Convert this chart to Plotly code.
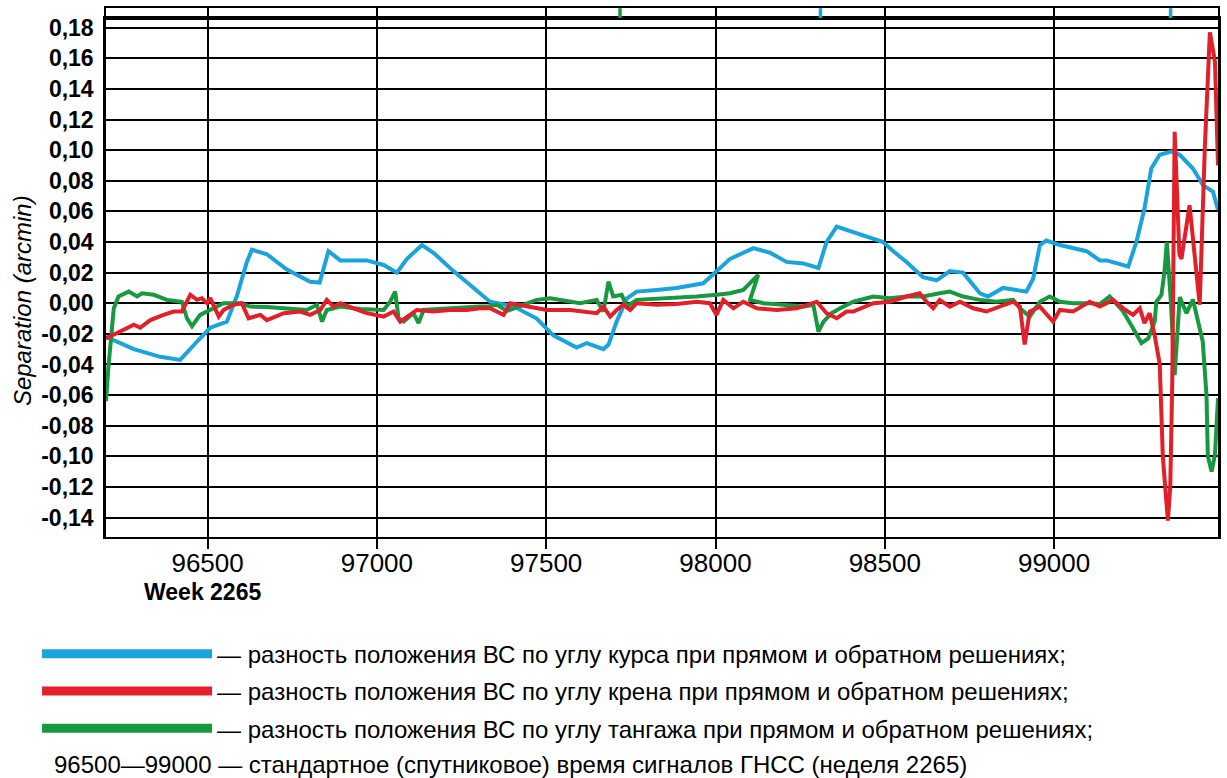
import plotly.graph_objects as go

# ---------------- data ----------------
heading_t = [96200, 96282, 96360, 96419, 96469, 96508, 96557, 96587, 96616, 96631, 96675, 96734,
             96803, 96831, 96857, 96892, 96970, 97020, 97059, 97089, 97133, 97167, 97226, 97275,
             97334, 97403, 97472, 97521, 97590, 97620, 97669, 97684, 97708, 97738, 97767, 97826,
             97885, 97964, 98003, 98043, 98112, 98161, 98210, 98259, 98304, 98328, 98358, 98397,
             98436, 98495, 98525, 98564, 98613, 98653, 98692, 98731, 98781, 98805, 98849, 98918,
             98938, 98958, 98977, 99017, 99096, 99135, 99155, 99219, 99243, 99267, 99287, 99312,
             99346, 99371, 99410, 99440, 99469, 99484]
heading_v = [-0.022, -0.030, -0.035, -0.037, -0.025, -0.016, -0.012, 0.005, 0.027, 0.035, 0.032, 0.022,
             0.014, 0.0135, 0.034, 0.028, 0.028, 0.025, 0.020, 0.029, 0.038, 0.033, 0.021, 0.012,
             0.001, -0.002, -0.010, -0.021, -0.029, -0.026, -0.030, -0.027, -0.012, 0.003, 0.0076, 0.0087,
             0.010, 0.013, 0.021, 0.029, 0.036, 0.033, 0.027, 0.026, 0.023, 0.040, 0.050, 0.047,
             0.044, 0.040, 0.034, 0.027, 0.017, 0.015, 0.021, 0.020, 0.0065, 0.0044, 0.010, 0.0076,
             0.016, 0.038, 0.041, 0.038, 0.034, 0.028, 0.028, 0.024, 0.040, 0.062, 0.088, 0.097,
             0.099, 0.097, 0.088, 0.077, 0.073, 0.061]

roll_t = [96200, 96242, 96282, 96301, 96331, 96370, 96400, 96424, 96449, 96469, 96483, 96498,
          96508, 96533, 96547, 96577, 96601, 96621, 96656, 96675, 96725, 96774, 96803, 96833,
          96852, 96872, 96892, 96931, 96970, 97020, 97049, 97069, 97118, 97167, 97216, 97266,
          97305, 97334, 97374, 97394, 97443, 97502, 97571, 97649, 97669, 97689, 97708, 97728,
          97748, 97767, 97826, 97885, 97944, 97983, 98003, 98023, 98053, 98082, 98122, 98181,
          98240, 98299, 98328, 98358, 98387, 98407, 98466, 98515, 98564, 98603, 98623, 98643,
          98662, 98692, 98722, 98761, 98800, 98840, 98879, 98899, 98913, 98928, 98958, 98997,
          99017, 99056, 99105, 99135, 99174, 99204, 99233, 99253, 99267, 99282, 99297, 99312,
          99321, 99336, 99343, 99349, 99353, 99356, 99370, 99376, 99400, 99430, 99445, 99460,
          99475, 99484]
roll_v = [-0.023, -0.0185, -0.014, -0.016, -0.011, -0.0076, -0.0054, -0.0054, 0.0055, 0.0022, 0.0033, 0.0,
          0.0033, -0.0087, -0.0044, -0.001, 0.0, -0.0098, -0.0076, -0.011, -0.0065, -0.0054, -0.0076, -0.0044,
          0.0022, -0.0022, 0.0, -0.0033, -0.0065, -0.0087, -0.0054, -0.012, -0.0044, -0.0054, -0.0044, -0.0044,
          -0.0033, -0.0033, -0.0076, 0.0, -0.0022, -0.0044, -0.0044, -0.0065, -0.0022, -0.0087, -0.0044, -0.001,
          -0.0044, 0.0, -0.001, -0.0005, 0.001, 0.0, -0.0076, 0.0022, -0.0033, 0.001, -0.0033, -0.0044,
          -0.0033, 0.001, -0.0065, -0.0098, -0.0054, -0.0054, 0.0, 0.001, 0.0044, 0.0065, 0.001, -0.0033,
          0.0022, -0.0022, 0.001, -0.0033, -0.0054, -0.0022, 0.001, -0.0022, -0.027, -0.0054, -0.0022, -0.012,
          -0.0044, -0.0054, 0.001, -0.0022, 0.0022, -0.0033, -0.0076, -0.0033, -0.013, -0.0065, -0.021, -0.040,
          -0.100, -0.142, -0.120, -0.050, 0.030, 0.112, 0.032, 0.029, 0.064, -0.001, 0.101, 0.177,
          0.158, 0.090]

pitch_t = [96200, 96207, 96223, 96237, 96267, 96292, 96306, 96341, 96380, 96424, 96439, 96454,
           96478, 96508, 96547, 96597, 96626, 96675, 96734, 96793, 96823, 96838, 96852, 96892,
           96951, 97020, 97039, 97054, 97064, 97079, 97108, 97123, 97138, 97187, 97246, 97305,
           97325, 97354, 97384, 97433, 97472, 97512, 97561, 97600, 97649, 97669, 97684, 97698,
           97723, 97738, 97767, 97826, 97885, 97944, 98003, 98043, 98082, 98112, 98126, 98102,
           98141, 98200, 98259, 98289, 98304, 98319, 98343, 98368, 98407, 98466, 98515, 98564,
           98613, 98662, 98692, 98731, 98781, 98830, 98879, 98899, 98928, 98958, 98987, 99017,
           99056, 99105, 99135, 99164, 99204, 99233, 99258, 99278, 99297, 99302, 99317, 99326,
           99333, 99345, 99356, 99371, 99391, 99410, 99439, 99450, 99454, 99465, 99475, 99484]
pitch_v = [-0.064, -0.042, -0.0033, 0.0044, 0.0076, 0.0044, 0.0065, 0.0055, 0.0022, 0.001, -0.0098, -0.015,
           -0.0076, -0.0044, 0.0, 0.0, -0.0022, -0.0025, -0.0037, -0.0044, -0.001, -0.012, -0.0044, -0.0022,
           -0.0037, -0.0044, 0.001, 0.0076, -0.0098, -0.012, -0.0065, -0.013, -0.0044, -0.0037, -0.0025, -0.0022,
           -0.0022, -0.001, -0.005, -0.001, 0.0022, 0.0033, 0.0018, 0.0, 0.0022, -0.0054, 0.0142, 0.0044,
           0.0055, -0.0022, 0.0022, 0.0028, 0.0037, 0.0044, 0.0055, 0.0065, 0.0087, 0.0153, 0.0185, 0.0022,
           0.0, -0.001, -0.0022, -0.001, -0.0185, -0.012, -0.0065, -0.0033, 0.001, 0.0044, 0.0033, 0.0044,
           0.0044, 0.0065, 0.0076, 0.0044, 0.0022, 0.001, 0.0022, -0.0033, -0.0087, 0.001, 0.0044, 0.001,
           0.0, 0.0, -0.0005, 0.0044, -0.0054, -0.0163, -0.026, -0.023, -0.012, 0.001, 0.0055, 0.0207,
           0.040, 0.000, -0.047, 0.004, -0.0065, 0.0024, -0.025, -0.060, -0.100, -0.110, -0.099, -0.062]

event_t = [97718, 98310, 99344]
event_kind = ["pitch", "heading", "heading"]

x_tick_vals = [96500, 97000, 97500, 98000, 98500, 99000]
x_tick_text = ["96500", "97000", "97500", "98000", "98500", "99000"]
y_tick_vals = [-0.14, -0.12, -0.10, -0.08, -0.06, -0.04, -0.02, 0.0, 0.02, 0.04, 0.06, 0.08,
               0.10, 0.12, 0.14, 0.16, 0.18]
y_tick_text = ["-0,14", "-0,12", "-0,10", "-0,08", "-0,06", "-0,04", "-0,02", "0,00", "0,02", "0,04",
               "0,06", "0,08", "0,10", "0,12", "0,14", "0,16", "0,18"]

legend_heading = "— разность положения ВС по углу курса при прямом и обратном решениях;"
legend_roll = "— разность положения ВС по углу крена при прямом и обратном решениях;"
legend_pitch = "— разность положения ВС по углу тангажа при прямом и обратном решениях;"
note_text = "96500—99000 — стандартное (спутниковое) время сигналов ГНСС (неделя 2265)"
week_text = "Week 2265"
y_title = "Separation (arcmin)"

# ---------------- style ----------------
BLUE = "#1ba3dc"
RED = "#e2202a"
GREEN = "#18983f"
colors = {"heading": BLUE, "roll": RED, "pitch": GREEN}
FONT = "Liberation Sans, Arial, sans-serif"
LW = 4

fig = go.Figure()
fig.add_trace(go.Scatter(x=heading_t, y=heading_v, mode="lines",
                         line=dict(color=BLUE, width=LW), showlegend=False))
fig.add_trace(go.Scatter(x=pitch_t, y=pitch_v, mode="lines",
                         line=dict(color=GREEN, width=LW), showlegend=False))
fig.add_trace(go.Scatter(x=roll_t, y=roll_v, mode="lines",
                         line=dict(color=RED, width=LW), showlegend=False))

# legend entries
for name, key, grp in [(legend_heading, "heading", "a"), (legend_roll, "roll", "b"),
                       (legend_pitch, "pitch", "c")]:
    fig.add_trace(go.Scatter(x=[None], y=[None], mode="lines", name=name, legendgroup=grp,
                             line=dict(color=colors[key], width=9), showlegend=True))

# event markers in top strip
fig.add_trace(go.Scatter(x=event_t, y=[0.5] * len(event_t), xaxis="x2", yaxis="y2",
                         mode="markers", showlegend=False, cliponaxis=False,
                         marker=dict(symbol="line-ns", size=7,
                                     line=dict(width=3.5, color=[colors[k] for k in event_kind]))))

X_RANGE = [96200, 99484]
axis_common = dict(showline=True, linecolor="black", mirror="all", zeroline=False, automargin=False)

fig.update_layout(
    template="none",
    width=1227, height=778,
    margin=dict(l=106, r=9, t=8, b=241, autoexpand=False),
    paper_bgcolor="white", plot_bgcolor="white",
    font=dict(family=FONT, color="black"),
    xaxis=dict(domain=[0, 1], anchor="y", range=X_RANGE, tickvals=x_tick_vals, ticktext=x_tick_text,
               ticks="outside", ticklen=10, tickwidth=1.5, tickcolor="black", ticklabelstandoff=-8,
               showgrid=True, gridcolor="black", gridwidth=2, linewidth=2.2,
               tickfont=dict(family=FONT, size=26, color="black"), **axis_common),
    yaxis=dict(domain=[0, 0.981], anchor="x", range=[-0.1527, 0.1863], tickvals=y_tick_vals,
               ticktext=y_tick_text, ticks="", showgrid=True, gridcolor="black", gridwidth=2.3,
               linewidth=2.5, ticklabelstandoff=5,
               tickfont=dict(family=FONT, size=23, color="black", weight="bold"),
               **axis_common),
    xaxis2=dict(domain=[0, 1], anchor="y2", range=X_RANGE, showticklabels=False, showgrid=False,
                ticks="", linewidth=2.2, **axis_common),
    yaxis2=dict(domain=[0.981, 1], anchor="x2", range=[0, 1], showticklabels=False, showgrid=False,
                ticks="", linewidth=2.2, **axis_common),
    legend=dict(x=-0.062, y=-0.179, xanchor="left", yanchor="top", orientation="v",
                traceorder="grouped", tracegroupgap=3, itemwidth=170,
                font=dict(family=FONT, size=24, color="black"), bgcolor="rgba(0,0,0,0)"),
    annotations=[
        dict(text=y_title, xref="paper", yref="paper", x=-0.0755, y=0.446, xanchor="center",
             yanchor="middle", textangle=-90, showarrow=False,
             font=dict(family=FONT, size=24, color="black", style="italic")),
        dict(text=week_text, xref="paper", yref="paper", x=0.0872, y=-0.104, xanchor="center",
             yanchor="middle", showarrow=False,
             font=dict(family=FONT, size=23, color="black", weight="bold")),
        dict(text=note_text, xref="paper", yref="paper", x=-0.0486, y=-0.431, xanchor="left",
             yanchor="middle", showarrow=False, font=dict(family=FONT, size=24, color="black")),
    ],
)

fig.write_html("out.html", config={"displayModeBar": False},
               post_script="document.body.style.margin='0';")
